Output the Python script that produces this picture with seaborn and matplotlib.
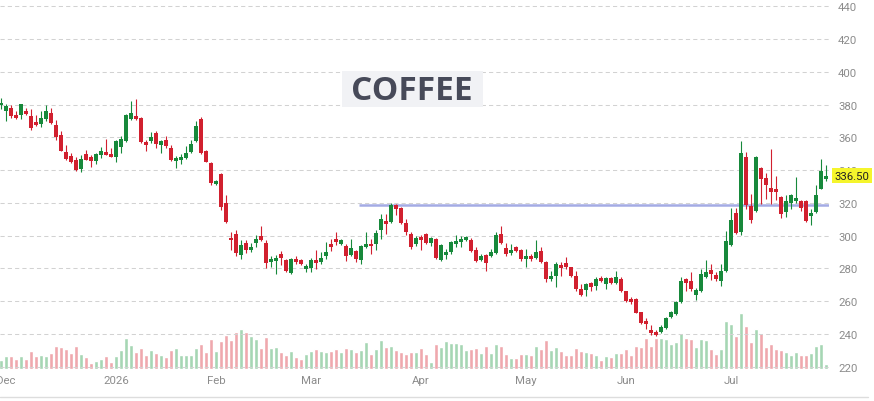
import numpy as np
import pandas as pd
import seaborn as sns
import matplotlib.pyplot as plt
import matplotlib.transforms as mtransforms
from matplotlib.patches import Rectangle
from matplotlib.lines import Line2D

# 咖啡期货日K，数值是照着图读出来的，差不多就行
opens = [379.6, 376.3, 378.0, 373.5, 373.9, 376.3, 373.3, 369.4, 368.2, 371.2,
         374.9, 367.4, 361.2, 351.0, 348.6, 346.1, 340.8, 349.8, 348.2, 345.7,
         349.4, 351.0, 349.8, 348.2, 353.9, 357.6, 371.2, 372.9, 371.8, 357.2,
         357.8, 362.7, 355.1, 358.6, 353.5, 345.7, 346.1, 347.4, 351.0, 357.5,
         371.0, 351.6, 344.6, 331.4, 337.4, 319.9, 298.6, 300.8, 288.0, 295.6,
         291.1, 295.6, 299.6, 295.6, 284.0, 284.6, 289.0, 285.4, 277.3, 286.0,
         285.0, 279.9, 280.5, 285.4, 284.0, 287.4, 295.1, 298.2, 295.1, 293.5,
         288.0, 290.7, 285.4, 293.1, 295.1, 295.1, 303.7, 309.0, 308.3, 318.5,
         316.7, 307.6, 301.3, 295.0, 299.0, 301.0, 295.3, 298.0, 285.2, 288.2,
         289.8, 294.9, 295.9, 297.4, 297.4, 291.3, 285.2, 288.2, 287.8, 289.2,
         301.0, 292.5, 289.2, 292.9, 291.3, 285.8, 287.8, 286.2, 290.5, 283.8,
         273.6, 275.6, 282.3, 283.1, 280.7, 275.6, 267.5, 266.9, 271.0, 269.5,
         274.2, 270.5, 274.2, 271.0, 273.6, 266.0, 261.2, 261.2, 253.1, 248.0,
         242.4, 241.4, 240.9, 243.4, 250.6, 252.3, 259.3, 273.3, 272.6, 264.0,
         266.1, 274.9, 279.0, 275.7, 272.6, 278.4, 294.2, 314.0, 302.0, 348.3,
         318.1, 314.8, 341.5, 335.3, 329.2, 328.8, 323.6, 314.4, 320.1, 321.0,
         321.0, 321.0, 311.9, 314.4, 328.8, 334.9]
highs = [384.0, 380.4, 380.0, 376.3, 380.6, 378.0, 377.3, 373.9, 376.3, 380.0,
         378.0, 370.4, 363.7, 355.1, 350.4, 347.8, 349.4, 352.3, 349.4, 350.4,
         354.3, 359.2, 353.5, 358.6, 360.6, 374.2, 382.0, 383.5, 372.3, 358.6,
         363.3, 363.7, 358.6, 360.6, 355.1, 348.4, 349.8, 354.5, 358.6, 369.8,
         372.6, 352.2, 345.2, 333.8, 338.2, 324.6, 302.3, 303.7, 297.2, 297.6,
         295.6, 300.2, 305.7, 297.2, 287.4, 288.0, 290.7, 286.0, 286.6, 287.4,
         286.0, 283.0, 286.6, 291.1, 290.1, 296.2, 298.2, 302.3, 298.2, 295.1,
         298.2, 291.5, 294.1, 302.3, 298.2, 303.3, 313.0, 313.4, 319.9, 319.5,
         317.5, 310.0, 302.0, 299.5, 300.6, 301.4, 299.4, 298.4, 294.9, 291.9,
         297.0, 300.6, 300.0, 300.0, 298.4, 292.9, 288.8, 288.8, 291.9, 302.0,
         306.1, 295.3, 294.9, 293.9, 291.9, 291.9, 288.8, 297.4, 293.3, 284.8,
         278.7, 283.8, 283.8, 286.8, 281.1, 278.3, 270.5, 271.0, 271.6, 274.6,
         275.6, 275.0, 275.0, 278.7, 274.6, 266.5, 262.5, 262.0, 253.7, 249.6,
         245.5, 242.4, 245.5, 250.6, 254.3, 259.9, 274.9, 274.3, 277.8, 268.1,
         279.8, 285.0, 282.6, 277.8, 282.5, 303.1, 316.8, 316.8, 357.5, 351.0,
         325.7, 348.9, 342.1, 338.0, 353.0, 336.6, 324.2, 324.6, 325.7, 335.9,
         321.6, 321.6, 316.4, 330.8, 346.8, 343.1]
lows = [377.5, 370.2, 372.0, 371.3, 371.4, 373.9, 364.3, 366.7, 366.3, 369.8,
        368.2, 358.2, 351.4, 345.9, 344.3, 339.6, 338.8, 345.9, 342.0, 343.9,
        347.3, 349.0, 347.8, 344.9, 350.4, 357.0, 370.6, 370.8, 356.5, 351.8,
        356.5, 353.7, 350.4, 353.7, 345.3, 341.2, 343.7, 346.7, 350.4, 357.0,
        349.8, 344.8, 330.8, 330.8, 315.4, 307.7, 291.5, 287.4, 286.0, 289.5,
        290.1, 293.1, 296.8, 280.5, 281.0, 276.5, 282.0, 277.9, 276.5, 283.0,
        282.0, 277.9, 277.9, 279.9, 283.0, 286.0, 290.7, 294.1, 294.1, 284.6,
        287.4, 284.0, 282.6, 292.6, 289.1, 291.5, 298.2, 301.2, 307.7, 312.4,
        307.3, 300.7, 292.0, 294.0, 291.3, 294.9, 293.9, 285.8, 284.8, 285.8,
        288.8, 293.3, 293.3, 296.5, 289.8, 283.8, 284.8, 278.3, 286.8, 288.8,
        294.9, 287.8, 288.4, 289.8, 284.8, 281.1, 284.8, 285.8, 283.1, 271.6,
        272.2, 268.5, 275.6, 279.7, 274.6, 266.5, 263.4, 263.4, 266.5, 266.9,
        271.6, 267.5, 270.5, 270.5, 265.5, 259.5, 258.2, 252.5, 246.0, 242.8,
        239.3, 238.7, 240.3, 242.8, 250.0, 251.7, 258.9, 266.1, 266.1, 260.5,
        265.5, 274.3, 272.8, 272.2, 269.1, 277.8, 293.8, 301.0, 300.4, 316.0,
        307.8, 314.4, 319.5, 322.6, 319.5, 321.6, 310.7, 311.3, 316.0, 320.1,
        314.8, 308.6, 306.6, 314.0, 328.4, 333.3]
closes = [381.0, 379.0, 372.9, 371.8, 380.4, 374.3, 365.7, 367.4, 371.8, 375.9,
          368.8, 360.2, 351.8, 346.9, 344.9, 340.0, 347.0, 346.5, 345.3, 349.8,
          351.8, 349.4, 348.2, 357.6, 359.2, 373.9, 374.9, 371.2, 357.2, 355.5,
          360.0, 356.1, 357.6, 354.5, 346.3, 347.3, 348.2, 350.4, 356.1, 367.2,
          350.7, 345.2, 332.3, 333.2, 317.5, 308.3, 297.2, 289.5, 294.1, 291.1,
          293.1, 298.2, 297.6, 283.4, 286.0, 286.6, 286.6, 278.5, 286.0, 284.0,
          283.0, 281.7, 285.4, 283.4, 286.4, 289.9, 293.1, 296.2, 297.2, 287.4,
          292.7, 286.0, 293.5, 295.1, 293.5, 301.6, 310.4, 307.3, 318.5, 316.5,
          307.9, 302.1, 293.0, 298.7, 297.4, 295.5, 298.6, 286.2, 294.3, 289.8,
          295.9, 296.5, 298.0, 299.0, 290.9, 284.4, 287.8, 283.1, 289.8, 300.4,
          295.3, 288.8, 291.3, 290.9, 285.8, 287.8, 285.8, 289.8, 283.8, 273.6,
          275.6, 282.7, 280.3, 280.7, 275.6, 267.5, 264.0, 270.5, 268.5, 273.6,
          272.6, 274.2, 271.0, 274.6, 266.1, 260.3, 259.5, 253.0, 246.6, 246.0,
          240.3, 239.3, 244.0, 249.6, 253.7, 259.3, 272.6, 271.2, 267.5, 266.7,
          276.3, 277.8, 276.3, 273.3, 278.4, 296.9, 309.8, 301.6, 350.3, 318.9,
          309.8, 348.3, 334.9, 330.8, 326.7, 326.7, 313.3, 321.0, 324.6, 323.0,
          316.8, 309.2, 313.7, 325.1, 339.4, 336.5]
volumes = [9300, 13300, 13300, 10300, 13300, 10300, 18300, 13300, 14300, 13300,
           16300, 23300, 22300, 20300, 16300, 23300, 15300, 12300, 6300, 8300,
           10300, 13300, 7300, 13300, 19300, 31300, 24300, 17300, 21300, 14300,
           19300, 16300, 14300, 12300, 19300, 21300, 14300, 14300, 14300, 21300,
           25300, 17300, 30300, 18300, 28300, 34300, 29300, 37300, 40300, 37300,
           33300, 30300, 21300, 32300, 21300, 22300, 17300, 14300, 18300, 12300,
           10300, 15300, 18300, 20300, 18300, 17300, 18300, 20300, 17300, 21300,
           20300, 17300, 19300, 27300, 15300, 20300, 29300, 22300, 23300, 19300,
           17300, 15300, 17300, 17300, 21300, 15300, 7300, 25300, 22300, 28300,
           26300, 26300, 25300, 19300, 20300, 21300, 16300, 23300, 16300, 25300,
           23300, 15300, 11300, 11300, 15300, 15300, 14300, 23300, 20300, 29300,
           19300, 22300, 18300, 14300, 14300, 21300, 18300, 17300, 16300, 14300,
           9300, 13300, 12300, 16300, 16300, 20300, 14300, 23300, 22300, 31300,
           23300, 31300, 31300, 30300, 25300, 27300, 36300, 31300, 30300, 22300,
           30300, 29300, 20300, 15300, 20300, 48300, 45300, 33300, 56300, 43300,
           27300, 40300, 36300, 22300, 25300, 20300, 19300, 17300, 14300, 17300,
           14300, 14300, 16300, 23300, 25300, 5300]

# 交易日：从 2025-11-28 开始，跳过美国假期
holidays = ["2025-12-25", "2026-01-01", "2026-01-19", "2026-02-16",
            "2026-04-03", "2026-05-25", "2026-06-19", "2026-07-03"]
start_date = "2025-11-28"
level_price = 318.5          # 那条蓝色的水平线
level_start = "2026-03-16"
last_label = "336.50"
title = "COFFEE"

GREEN = "#17893b"
RED = "#d1202f"
VOL_GREEN = "#a6d6b4"
VOL_RED = "#efa8ae"

sns.set_theme(style="white")
plt.rcParams["font.family"] = ["Roboto", "DejaVu Sans"]

dates = pd.bdate_range(start=start_date, periods=len(closes), freq="C", holidays=holidays)
df = pd.DataFrame({
    "date": dates,
    "open": opens, "high": highs, "low": lows, "close": closes,
    "volume": volumes,
})
df["idx"] = np.arange(len(df))
df["up"] = df["close"] >= df["open"]

# 每个月第一个交易日做刻度，一月份显示年份；11月只有一根K线，不标
month_first = df.groupby(df["date"].dt.to_period("M"))["idx"].min()
month_first = month_first[month_first > 0]
tick_pos = month_first.values
tick_lab = [str(p.year) if p.month == 1 else p.strftime("%b") for p in month_first.index]

W, H = 874, 402
fig = plt.figure(figsize=(W / 100, H / 100), dpi=100)
fig.patch.set_facecolor("white")

rect = [0, (H - 370) / H, 829 / W, 370 / H]
ax_vol = fig.add_axes(rect)
ax = ax_vol.twinx()

# 成交量柱子，放在底下一层
sns.barplot(
    data=df, x="idx", y="volume", hue="up",
    palette={True: VOL_GREEN, False: VOL_RED},
    native_scale=True, dodge=False, width=0.75,
    saturation=1, errorbar=None, legend=False, ax=ax_vol,
)
ax_vol.set_ylim(0, 370 * 1000)
ax_vol.set_yticks([])
ax_vol.set_ylabel("")
ax_vol.set_xlabel("")
for s in ax_vol.spines.values():
    s.set_visible(False)

# K 线：影线 + 实体
colors = np.where(df["up"], GREEN, RED)
ax.vlines(df["idx"], df["low"], df["high"], colors=colors, lw=0.8, zorder=3)
body_bot = np.minimum(df["open"], df["close"])
body_h = np.maximum((df["close"] - df["open"]).abs(), 0.7)
ax.bar(df["idx"], body_h, bottom=body_bot, width=0.66, color=colors, lw=0, zorder=4)

start_i = df.loc[df["date"] == pd.Timestamp(level_start), "idx"].iloc[0] - 0.4
x_right = len(df) - 0.4
ax.hlines(level_price, start_i, x_right, color="#9aa2e2", lw=1.8, alpha=0.9, zorder=2)

ax.set_xlim(-0.2, x_right)
ax.set_ylim(218.6, 444.5)
ax.set_yticks(np.arange(220, 441, 20))
ax.set_xticks(tick_pos)
ax.set_xticklabels(tick_lab)
ax_vol.set_xticks(tick_pos)
ax_vol.set_xticklabels(tick_lab)
ax_vol.set_xlim(-0.2, x_right)

ax.grid(True, color="#d2d2d2", lw=0.75, ls=(0, (4, 3)))
ax.tick_params(axis="y", length=0, pad=6.5, labelsize=8.2, labelcolor="#8c8c8c")
ax_vol.tick_params(axis="x", length=0, pad=4, labelsize=8.2, labelcolor="#8c8c8c")
ax.tick_params(axis="x", length=0, labelbottom=False)
for s in ax.spines.values():
    s.set_visible(False)

# 最新价的黄色标签
trans = mtransforms.blended_transform_factory(ax.transAxes, ax.transData)
ax.text(1.007, df["close"].iloc[-1], last_label, transform=trans, ha="left", va="center",
        fontsize=8.2, color="#222222", zorder=6,
        bbox=dict(boxstyle="square,pad=0.22", fc="#f5f52c", ec="none"))

# 标题框
fig.add_artist(Rectangle((342 / W, 1 - 107.5 / H), 141 / W, 36 / H,
                         transform=fig.transFigure, fc="#f1f2f5", ec="none", zorder=5))
fig.text(412 / W, 1 - 91 / H, title, ha="center", va="center", fontsize=24,
         fontweight="bold", family=["Open Sans", "DejaVu Sans"], color="#474a59", zorder=6)

fig.add_artist(Line2D([0, 868 / W], [4 / H, 4 / H], transform=fig.transFigure,
                      color="#dddddd", lw=1))

fig.savefig("out.png", dpi=100)
